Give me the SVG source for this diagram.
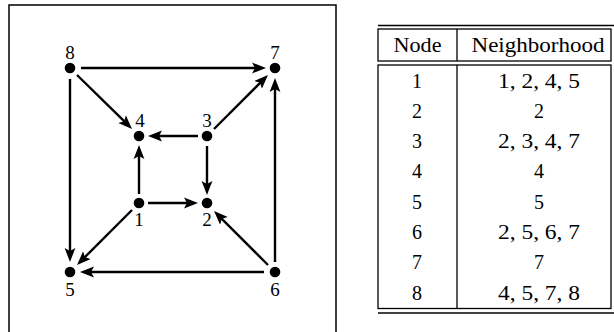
<svg xmlns="http://www.w3.org/2000/svg" width="614" height="332" viewBox="0 0 614 332">
  <style>
    .frame { fill: none; stroke: #000; stroke-width: 1.5; }
    .dot { fill: #000; }
    .lbl { font-family: "Liberation Serif", "Times New Roman", serif; font-size: 19px; fill: #000; text-anchor: middle; }
    .edge { stroke: #000; stroke-width: 2.4; fill: none; marker-end: url(#head); }
    .rule { stroke: #000; stroke-width: 1.3; fill: none; }
    .cell { font-family: "Liberation Serif", "Times New Roman", serif; font-size: 20px; fill: #000; text-anchor: middle; }
  </style>
  <defs>
    <marker id="head" markerUnits="userSpaceOnUse" markerWidth="16" markerHeight="14" viewBox="0 -7 16 14" refX="4" refY="0" orient="auto">
      <path d="M0,-5.4 L14,0 L0,5.4 L3,0 Z" fill="#000"/>
    </marker>
  </defs>

  <rect width="614" height="332" fill="#fff"/>

  <!-- graph panel -->
  <rect class="frame" x="9" y="5" width="327" height="340"/>

  <g id="edges">
    <line class="edge" x1="81" y1="68" x2="256" y2="68"/>
    <line class="edge" x1="77" y1="75" x2="124.9" y2="121.9"/>
    <line class="edge" x1="70" y1="79" x2="70" y2="252"/>
    <line class="edge" x1="198" y1="136" x2="158" y2="136"/>
    <line class="edge" x1="214" y1="129" x2="260.9" y2="82.1"/>
    <line class="edge" x1="207" y1="146" x2="207" y2="185"/>
    <line class="edge" x1="139" y1="194" x2="139" y2="155"/>
    <line class="edge" x1="148" y1="203" x2="188" y2="203"/>
    <line class="edge" x1="132" y1="210" x2="84.1" y2="257.9"/>
    <line class="edge" x1="268" y1="265" x2="221.1" y2="218.1"/>
    <line class="edge" x1="264" y1="272" x2="90" y2="272"/>
    <line class="edge" x1="275" y1="262" x2="275" y2="88"/>
  </g>

  <g id="n8"><circle class="dot" cx="70" cy="68" r="5.3"/><text class="lbl" x="70" y="59">8</text></g>
  <g id="n7"><circle class="dot" cx="275" cy="68" r="5.3"/><text class="lbl" x="275" y="59">7</text></g>
  <g id="n4"><circle class="dot" cx="139" cy="136" r="5.3"/><text class="lbl" x="140" y="127">4</text></g>
  <g id="n3"><circle class="dot" cx="207" cy="136" r="5.3"/><text class="lbl" x="207" y="127">3</text></g>
  <g id="n1"><circle class="dot" cx="139" cy="203" r="5.3"/><text class="lbl" x="139" y="226">1</text></g>
  <g id="n2"><circle class="dot" cx="207" cy="203" r="5.3"/><text class="lbl" x="207" y="226">2</text></g>
  <g id="n5"><circle class="dot" cx="70" cy="272" r="5.3"/><text class="lbl" x="70" y="296">5</text></g>
  <g id="n6"><circle class="dot" cx="275" cy="272" r="5.3"/><text class="lbl" x="275" y="296">6</text></g>

  <!-- neighborhood table -->
  <g id="table">
    <line class="rule" x1="378" y1="25.5" x2="614" y2="25.5"/>
    <rect class="rule" x="378" y="29" width="233" height="32"/>
    <line class="rule" x1="457" y1="29" x2="457" y2="61"/>
    <rect class="rule" x="378" y="65" width="233" height="243.5"/>
    <line class="rule" x1="457" y1="65" x2="457" y2="308.5"/>
    <line class="rule" x1="378" y1="313" x2="614" y2="313" stroke-width="1.8"/>

    <text class="cell" x="417.5" y="51.5" textLength="48" lengthAdjust="spacingAndGlyphs">Node</text>
    <text class="cell" x="538" y="51.5" textLength="133" lengthAdjust="spacingAndGlyphs">Neighborhood</text>

    <text class="cell" x="417" y="87.5">1</text>
    <text class="cell" x="539" y="87.5" textLength="82" lengthAdjust="spacingAndGlyphs">1, 2, 4, 5</text>
    <text class="cell" x="417" y="117.8">2</text>
    <text class="cell" x="539" y="117.8">2</text>
    <text class="cell" x="417" y="148.1">3</text>
    <text class="cell" x="539" y="148.1" textLength="82" lengthAdjust="spacingAndGlyphs">2, 3, 4, 7</text>
    <text class="cell" x="417" y="178.4">4</text>
    <text class="cell" x="539" y="178.4">4</text>
    <text class="cell" x="417" y="208.6">5</text>
    <text class="cell" x="539" y="208.6">5</text>
    <text class="cell" x="417" y="238.9">6</text>
    <text class="cell" x="539" y="238.9" textLength="82" lengthAdjust="spacingAndGlyphs">2, 5, 6, 7</text>
    <text class="cell" x="417" y="269.2">7</text>
    <text class="cell" x="539" y="269.2">7</text>
    <text class="cell" x="417" y="299.5">8</text>
    <text class="cell" x="539" y="299.5" textLength="82" lengthAdjust="spacingAndGlyphs">4, 5, 7, 8</text>
  </g>
</svg>
